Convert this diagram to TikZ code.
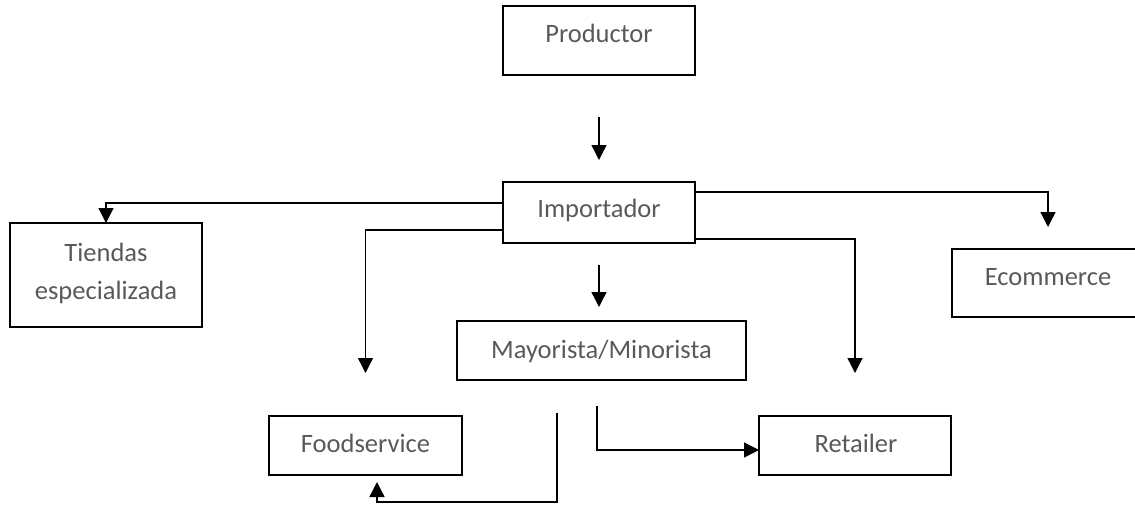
\documentclass[tikz,border=0pt]{standalone}
\usepackage{fontspec}
\setmainfont{Carlito}
\usetikzlibrary{arrows.meta}
\definecolor{txtgray}{HTML}{595959}
\begin{document}
\begin{tikzpicture}[x=1pt,y=-1pt,
  box/.style={draw=black, line width=1.9pt, inner sep=0pt, outer sep=0pt},
  txt/.style={text=txtgray, inner sep=0pt, anchor=base, font=\fontsize{26.5}{38}\selectfont},
  arr/.style={draw=black, line width=1.4pt, -{Triangle[length=15pt,width=15pt]}},
  ln/.style={draw=black, line width=1.4pt}]
\clip (0,0) rectangle (1135,504);
\useasboundingbox (0,0) rectangle (1135,504);
% boxes
\node[box, minimum width=192pt, minimum height=69pt] (prod) at (599,40.5) {};
\node[box, minimum width=192pt, minimum height=61pt] (imp) at (599,212.5) {};
\node[box, minimum width=192pt, minimum height=104pt] (tie) at (106,275) {};
\node[box, minimum width=192pt, minimum height=68pt] (ecom) at (1048,283) {};
\node[box, minimum width=289pt, minimum height=59pt] (may) at (601.5,350.5) {};
\node[box, minimum width=193pt, minimum height=59pt] (food) at (365.5,445.5) {};
\node[box, minimum width=192pt, minimum height=59pt] (ret) at (855,445.5) {};
% texts
\node[txt] (prodt) at (599,42) {Productor};
\node[txt] (impt) at (599,217) {Importador};
\node[txt] (tiet1) at (106,261) {Tiendas};
\node[txt] (tiet2) at (106,299) {especializada};
\node[txt] (ecomt) at (1048,285) {Ecommerce};
\node[txt] (mayt) at (601.5,358) {Mayorista/Minorista};
\node[txt] (foodt) at (365.5,452) {Foodservice};
\node[txt] (rett) at (856,452) {Retailer};
% helper coordinates
\coordinate (yT) at (0,203);
\coordinate (yF) at (0,230);
\coordinate (yE) at (0,192);
\coordinate (yR) at (0,239);
\coordinate (mr) at (597,450);
\coordinate (fb) at (557,502);
\coordinate (fa) at (377,502);
% connectors
\draw[arr, shorten <=42pt, shorten >=22pt] (prod.south) -- (imp.north);
\draw[arr] (imp.west |- yT) -| (tie.north);
\draw[arr, shorten >=43pt] (imp.west |- yF) -| (food.north);
\draw[arr, shorten >=22pt] (imp.east |- yE) -| (ecom.north);
\draw[arr, shorten >=43pt] (imp.east |- yR) -| (ret.north);
\draw[arr, shorten <=22pt, shorten >=14pt] (imp.south) -- (imp.south |- may.north);
\draw[arr, shorten <=26pt] (may.south -| mr) |- (ret.west |- mr);
\draw[arr, shorten <=33pt, shorten >=7pt] (may.south -| fb) -- (fb) -- (fa) -- (fa |- food.south);
\end{tikzpicture}
\end{document}
